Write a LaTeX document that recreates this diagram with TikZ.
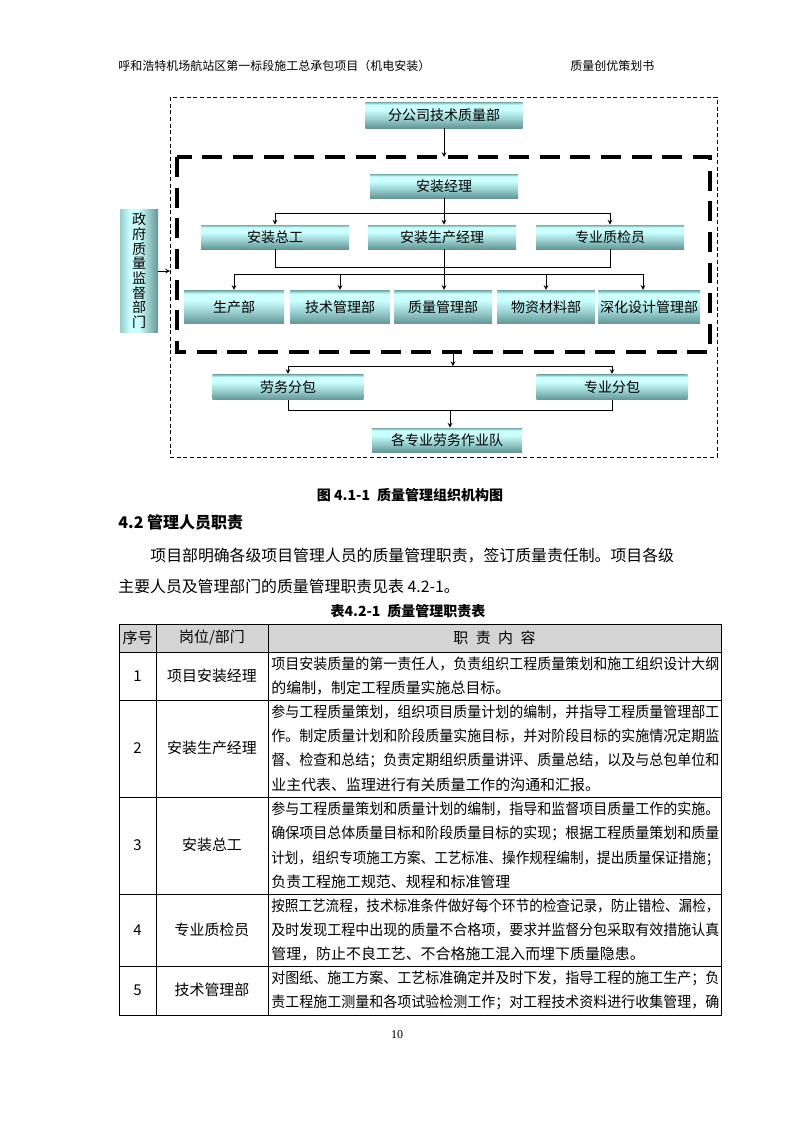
\documentclass[tikz,border=0pt]{standalone}
\usepackage{fontspec}
\setmainfont{Noto Sans CJK SC}
\newfontfamily\numfont{Liberation Serif}
\usepackage{graphicx}
\usetikzlibrary{arrows,positioning}
\definecolor{boxlight}{RGB}{204,255,255}
\definecolor{boxedge}{RGB}{120,170,170}
\definecolor{boxmid}{RGB}{150,205,205}
\definecolor{boxdark}{RGB}{100,150,150}
\definecolor{headgray}{RGB}{212,212,212}
\pgfdeclareverticalshading{tealbar}{100bp}{color(0bp)=(boxdark); color(25bp)=(boxdark); color(42bp)=(boxmid); color(60bp)=(boxlight); color(70bp)=(boxlight); color(75bp)=(boxedge); color(100bp)=(boxedge)}
\pgfdeclarehorizontalshading{tealside}{100bp}{color(0bp)=(boxmid); color(25bp)=(boxmid); color(38bp)=(boxlight); color(50bp)=(boxlight); color(75bp)=(boxdark); color(100bp)=(boxdark)}
\newcommand{\fitline}[1]{\resizebox{336pt}{\height}{#1}}

\begin{document}
\begin{tikzpicture}[x=0.75pt, y=-0.75pt, >=stealth, line width=0.6pt]
    % Styles
    \tikzstyle{block} = [rectangle, shade, shading=tealbar, minimum width=111pt, minimum height=18pt, inner sep=0pt, font=\fontsize{10.5}{12}\selectfont]
    \tikzstyle{dept} = [block, minimum width=75pt, minimum height=25pt]
    \tikzstyle{line} = [draw, ->]
    \tikzstyle{cell} = [anchor=west, inner sep=0pt, font=\fontsize{11.2}{12}\selectfont]
    \tikzstyle{mid} = [inner sep=0pt, font=\fontsize{11.2}{12}\selectfont]
    \tikzstyle{para} = [anchor=west, inner sep=0pt, font=\fontsize{11.9}{13}\selectfont]

    \useasboundingbox (0,0) rectangle (793,1122);

    % Header
    \node [anchor=west, inner sep=0pt, font=\fontsize{9}{10}\selectfont] (head) at (118,66) {呼和浩特机场航站区第一标段施工总承包项目（机电安装）};
    \node [anchor=west, inner sep=0pt, font=\fontsize{9}{10}\selectfont] (book) at (570,66) {质量创优策划书};

    % Frames
    \coordinate (obnw) at (170,97);
    \coordinate (obse) at (717,457);
    \coordinate (ibnw) at (177,157);
    \coordinate (ibse) at (710,352);
    \draw [dash pattern=on 3pt off 2pt] (obnw) rectangle (obse);
    \draw [line width=2.6pt, dash pattern=on 15pt off 8pt] (ibnw) rectangle (ibse);

    % Nodes
    \node [block, minimum width=118pt, minimum height=19.5pt] (fgs) at (444,115) {分公司技术质量部};
    \node [block] (azjl) at (444,186) {安装经理};
    \node [block] (azzg) at (275,237) {安装总工};
    \node [block] (azsc) at (442,237) {安装生产经理};
    \node [block] (zjy) at (610,237) {专业质检员};
    \node [dept] (scb) at (234,307) {生产部};
    \node [dept] (jsb) at (340,307) {技术管理部};
    \node [dept, minimum width=73.5pt] (zlb) at (443,307) {质量管理部};
    \node [dept, minimum width=73.5pt] (wzb) at (546,307) {物资材料部};
    \node [dept, minimum width=76.5pt] (shb) at (649,307) {深化设计管理部};
    \node [block, minimum width=113pt, minimum height=19pt] (lwfb) at (288,387) {劳务分包};
    \node [block, minimum width=113pt, minimum height=19pt] (zyfb) at (612,387) {专业分包};
    \node [block, minimum width=112.5pt] (dw) at (447,440) {各专业劳务作业队};
    \node [rectangle, shade, shading=tealside, minimum width=28.5pt, minimum height=92pt, inner sep=0pt, align=center, font=\fontsize{10.5}{11}\selectfont] (zf) at (139,271) {政\\府\\质\\量\\监\\督\\部\\门};

    % Connectors
    \coordinate (bus1) at (444,213);
    \coordinate (bus2) at (444,267);
    \coordinate (bus3) at (444,274);
    \coordinate (ibout) at (453,352);
    \coordinate (bus4) at (453,366);
    \coordinate (bus5) at (450,410);
    \path [line] (fgs.south) -- (fgs.south |- ibnw);
    \path [line] (azjl.south) -- (azsc.north -| azjl.south);
    \draw (azzg.north |- bus1) -- (zjy.north |- bus1);
    \path [line] (azzg.north |- bus1) -- (azzg.north);
    \path [line] (zjy.north |- bus1) -- (zjy.north);
    \draw (azzg.south) -- (azzg.south |- bus2) -- (zjy.south |- bus2) -- (zjy.south);
    \path [line] (azsc.south -| azjl.south) -- (zlb.north -| azjl.south);
    \draw (scb.north |- bus3) -- ([xshift=-4.5pt]shb.north |- bus3);
    \path [line] (scb.north |- bus3) -- (scb.north);
    \path [line] (jsb.north |- bus3) -- (jsb.north);
    \path [line] (wzb.north |- bus3) -- (wzb.north);
    \path [line] ([xshift=-4.5pt]shb.north |- bus3) -- ([xshift=-4.5pt]shb.north);
    \path [line] (zf.east) -- (zf.east -| obnw);
    \path [line] (ibout) -- (bus4);
    \draw (lwfb.north |- bus4) -- (zyfb.north |- bus4);
    \path [line] (lwfb.north |- bus4) -- (lwfb.north);
    \path [line] (zyfb.north |- bus4) -- (zyfb.north);
    \draw (lwfb.south) -- (lwfb.south |- bus5) -- (zyfb.south |- bus5) -- (zyfb.south);
    \path [line] (bus5) -- (dw.north -| bus5);

    % Captions and text
    \node [inner sep=0pt, font=\fontsize{10.5}{12}\selectfont\bfseries] (cap1) at (410,495) {图 4.1-1\enspace 质量管理组织机构图};
    \node [anchor=west, inner sep=0pt, font=\fontsize{12}{13}\selectfont\bfseries] (sec) at (118,522) {4.2 管理人员职责};
    \node [para] (p1) at (150,556) {项目部明确各级项目管理人员的质量管理职责，签订质量责任制。项目各级};
    \node [para] (p2) at (118,586) {主要人员及管理部门的质量管理职责见表 4.2-1。};
    \node [inner sep=0pt, font=\fontsize{10.5}{12}\selectfont\bfseries] (cap2) at (408,611) {表4.2-1\enspace 质量管理职责表};

    % Table
    \fill [headgray] (119,624) rectangle (721,652);
    \draw (119,624) rectangle (721,1015);
    \foreach \ry in {652,700,797,894,966}
        \draw (119,\ry) -- (721,\ry);
    \draw (156,624) -- (156,1015);
    \draw (268,624) -- (268,1015);

    \node [mid] (h1) at (137.5,638) {序号};
    \node [mid] (h2) at (212,638) {岗位/部门};
    \node [mid] (h3) at (494.5,638) {职\enspace 责\enspace 内\enspace 容};

    \node [mid] (n1) at (137.5,676) {1};
    \node [mid] (g1) at (212,676) {项目安装经理};
    \node [cell] at (271,664) {\fitline{项目安装质量的第一责任人，负责组织工程质量策划和施工组织设计大纲}};
    \node [cell] at (271,688) {的编制，制定工程质量实施总目标。};

    \node [mid] (n2) at (137.5,748) {2};
    \node [mid] (g2) at (212,748) {安装生产经理};
    \node [cell] at (271,712) {\fitline{参与工程质量策划，组织项目质量计划的编制，并指导工程质量管理部工}};
    \node [cell] at (271,736) {\fitline{作。制定质量计划和阶段质量实施目标，并对阶段目标的实施情况定期监}};
    \node [cell] at (271,760) {\fitline{督、检查和总结；负责定期组织质量讲评、质量总结，以及与总包单位和}};
    \node [cell] at (271,785) {业主代表、监理进行有关质量工作的沟通和汇报。};

    \node [mid] (n3) at (137.5,845) {3};
    \node [mid] (g3) at (212,845) {安装总工};
    \node [cell] at (271,809) {\fitline{参与工程质量策划和质量计划的编制，指导和监督项目质量工作的实施。}};
    \node [cell] at (271,833) {\fitline{确保项目总体质量目标和阶段质量目标的实现；根据工程质量策划和质量}};
    \node [cell] at (271,858) {\fitline{计划，组织专项施工方案、工艺标准、操作规程编制，提出质量保证措施；}};
    \node [cell] at (271,882) {负责工程施工规范、规程和标准管理};

    \node [mid] (n4) at (137.5,930) {4};
    \node [mid] (g4) at (212,930) {专业质检员};
    \node [cell] at (271,906) {\fitline{按照工艺流程，技术标准条件做好每个环节的检查记录，防止错检、漏检，}};
    \node [cell] at (271,930) {\fitline{及时发现工程中出现的质量不合格项，要求并监督分包采取有效措施认真}};
    \node [cell] at (271,954) {管理，防止不良工艺、不合格施工混入而埋下质量隐患。};

    \node [mid] (n5) at (137.5,990) {5};
    \node [mid] (g5) at (212,990) {技术管理部};
    \node [cell] at (271,978) {\fitline{对图纸、施工方案、工艺标准确定并及时下发，指导工程的施工生产；负}};
    \node [cell] at (271,1002) {\fitline{责工程施工测量和各项试验检测工作；对工程技术资料进行收集管理，确}};

    % Page number
    \node [inner sep=0pt, font=\numfont\fontsize{9}{10}\selectfont] (pg) at (397,1035) {10};
\end{tikzpicture}
\end{document}
